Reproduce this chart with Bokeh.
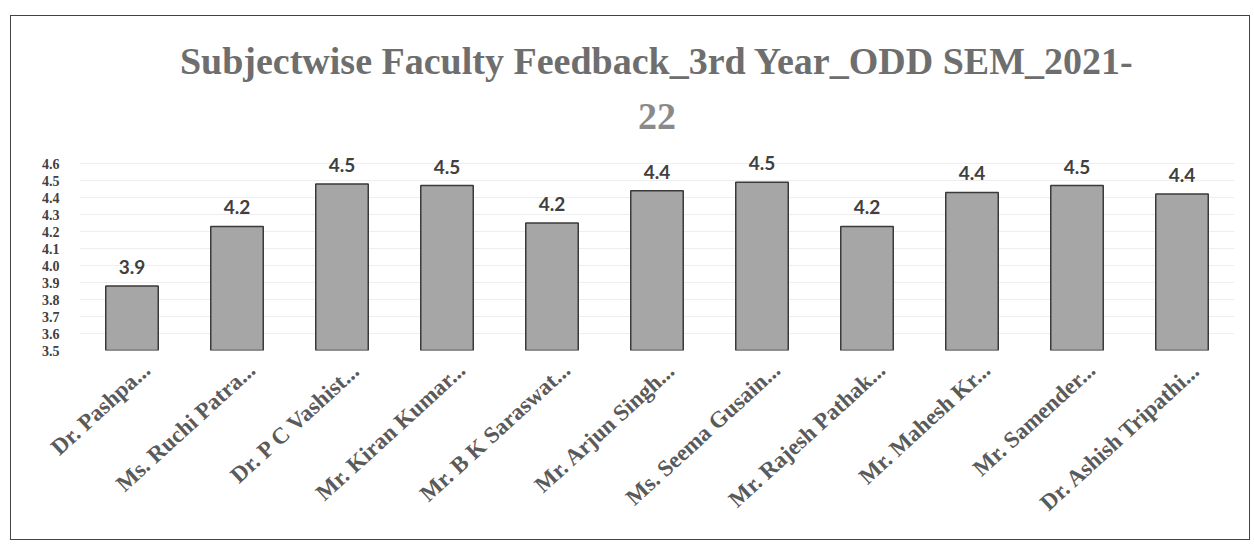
from bokeh.plotting import figure
from bokeh.models import (ColumnDataSource, Title, FixedTicker, NumeralTickFormatter, Range1d)
from bokeh.core.properties import value
from bokeh.embed import file_html
from bokeh.resources import INLINE

faculty = ["Dr. Pashpa...", "Ms. Ruchi Patra...", "Dr. P C Vashist...", "Mr. Kiran Kumar...",
           "Mr. B K Saraswat...", "Mr. Arjun Singh...", "Ms. Seema Gusain...", "Mr. Rajesh Pathak...",
           "Mr. Mahesh Kr...", "Mr. Samender...", "Dr. Ashish Tripathi..."]
scores = [3.88, 4.23, 4.48, 4.47, 4.25, 4.44, 4.49, 4.23, 4.43, 4.47, 4.42]
y_ticks = [3.5, 3.6, 3.7, 3.8, 3.9, 4.0, 4.1, 4.2, 4.3, 4.4, 4.5, 4.6]
title_line1 = "Subjectwise Faculty Feedback_3rd Year_ODD SEM_2021-"
title_line2 = "22"

n = len(faculty)
pos = [i + 0.5 for i in range(n)]
src = ColumnDataSource(dict(x=pos, top=scores, lbl=[f"{v:.1f}" for v in scores]))

p = figure(x_range=Range1d(0, n), y_range=(3.5, 4.7), width=1240, height=525,
           output_backend="svg", toolbar_location=None,
           min_border_left=68, min_border_right=17, min_border_bottom=191, min_border_top=130)

p.add_layout(Title(text=title_line2, align="center", text_font="Liberation Serif",
                   text_font_size="38px", text_font_style="bold", text_color="#8a8a8a",
                   standoff=36, offset=-20), "above")
p.add_layout(Title(text=title_line1, align="center", text_font="Liberation Serif",
                   text_font_size="38px", text_font_style="bold", text_color="#6e6e6e",
                   standoff=3, offset=-20), "above")

p.vbar(x="x", top="top", bottom=3.5, width=0.5, source=src,
       fill_color="#a6a6a6", line_color="#3a3a3a", line_width=1.5)
p.text(x="x", y="top", text="lbl", source=src, text_align="center", text_baseline="bottom",
       y_offset=-12, text_font=value("Lato"), text_font_style="bold",
       text_font_size="19px", text_color="#404040")

# category labels, nudged slightly right of the bar centres like the original
lab_ticks = [x + 0.14 for x in pos]
p.xaxis.ticker = FixedTicker(ticks=lab_ticks)
p.xaxis.major_label_overrides = {t: name for t, name in zip(lab_ticks, faculty)}
p.xaxis.major_label_orientation = 0.74
p.xaxis.major_label_text_font = "Liberation Serif"
p.xaxis.major_label_text_font_style = "bold"
p.xaxis.major_label_text_font_size = "23px"
p.xaxis.major_label_text_color = "#5a5a5a"
p.xaxis.major_label_standoff = 10

p.yaxis.ticker = FixedTicker(ticks=y_ticks)
p.yaxis.formatter = NumeralTickFormatter(format="0.0")
p.yaxis.major_label_text_font = "Liberation Serif"
p.yaxis.major_label_text_font_style = "bold"
p.yaxis.major_label_text_font_size = "14px"
p.yaxis.major_label_text_color = "#404040"
p.yaxis.major_label_standoff = 14
for ax in (p.xaxis, p.yaxis):
    ax.axis_line_color = None
    ax.major_tick_line_color = None
    ax.minor_tick_line_color = None
p.xgrid.grid_line_color = None
p.ygrid.grid_line_color = "#eeeeee"
p.outline_line_color = None
p.styles = {"border": "1.5px solid #444", "box-sizing": "border-box",
            "margin-left": "10px", "margin-top": "15px"}

open("out.html", "w").write(file_html(p, INLINE))
